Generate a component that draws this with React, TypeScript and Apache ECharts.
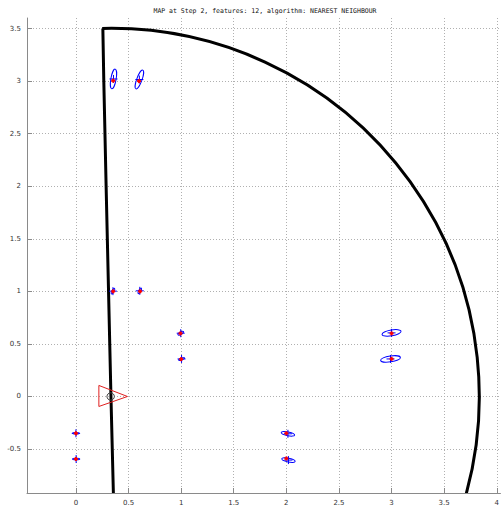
import React, { useEffect, useRef } from "react";
import * as echarts from "echarts";

const titleText = "MAP at Step 2, features: 12, algorithm: NEAREST NEIGHBOUR";

const xTicks = [0, 0.5, 1, 1.5, 2, 2.5, 3, 3.5, 4];
const yTicks = [-0.5, 0, 0.5, 1, 1.5, 2, 2.5, 3, 3.5];

// true landmark positions (red)
const trueX = [0.354, 0.6, 0.354, 0.61, 0.994, 1.0, 0.0, 0.0, 2.0, 2.0, 3.0, 3.0];
const trueY = [3.004, 3.0, 1.0, 1.0, 0.6, 0.355, -0.35, -0.595, -0.35, -0.59, 0.6, 0.358];
// estimated landmark positions (blue)
const estX = [0.357, 0.603, 0.352, 0.607, 0.996, 1.004, 0.0, 0.002, 2.015, 2.02, 3.0, 2.99];
const estY = [3.02, 3.015, 1.002, 1.005, 0.602, 0.357, -0.35, -0.595, -0.355, -0.605, 0.605, 0.357];
// covariance ellipses: semi-axes (data units) and angle (deg)
const ellA = [0.095, 0.095, 0.03, 0.03, 0.03, 0.03, 0.035, 0.035, 0.065, 0.065, 0.092, 0.095];
const ellB = [0.025, 0.025, 0.01, 0.01, 0.012, 0.01, 0.008, 0.008, 0.018, 0.018, 0.028, 0.028];
const ellAng = [80, 70, 60, 60, 30, 20, 0, 0, -12, -12, 10, 8];

// robot trajectory
const pathX = [0.356, 0.333, 0.31, 0.287, 0.265, 0.256];
const pathY = [-0.918, 0, 1, 2, 3, 3.5];
// circular part of the trajectory: center x, center y, radius, start deg, end deg
const arcParams = [0.335, 0, 3.5, 91.4, -20];

// robot pose triangle
const triX = [0.218, 0.218, 0.49, 0.218];
const triY = [0.105, -0.095, 0, 0.105];
// robot pose covariance
const robotCov = [0.33, 0, 0.035];

export default function App() {
  const ref = useRef<HTMLDivElement>(null);
  useEffect(() => {
    if (!ref.current) return;
    const chart = echarts.init(ref.current, null, { renderer: "svg" });
    const lmData = trueX.map((x, i) => [x, trueY[i], estX[i], estY[i], ellA[i], ellB[i], ellAng[i]]);
    const axisColor = "#8a8a8a";
    const gridLine = { show: true, lineStyle: { color: "#b0b0b0", type: [1, 2] as any, width: 1 } };
    chart.setOption({
      animation: false,
      backgroundColor: "#ffffff",
      grid: { left: 27, right: 1, top: 18, bottom: 16, containLabel: false },
      graphic: [
        {
          type: "text",
          x: 265,
          y: 11,
          style: {
            text: titleText,
            align: "center",
            verticalAlign: "middle",
            fontSize: 6.5,
            fontFamily: "DejaVu Sans Mono",
            fill: "#111",
          },
        },
      ],
      xAxis: {
        type: "value",
        min: -0.465,
        max: 4.035,
        axisLine: { show: true, onZero: false, lineStyle: { color: axisColor, width: 1 } },
        axisTick: { show: true, inside: true, length: 5, customValues: xTicks, lineStyle: { color: axisColor } },
        axisLabel: {
          customValues: xTicks,
          formatter: (v: number) => String(v),
          fontSize: 7,
          fontFamily: "DejaVu Sans",
          color: "#333",
          margin: 6,
        },
        splitLine: gridLine,
      },
      yAxis: {
        type: "value",
        min: -0.918,
        max: 3.6,
        axisLine: { show: true, onZero: false, lineStyle: { color: axisColor, width: 1 } },
        axisTick: { show: true, inside: true, length: 5, customValues: yTicks, lineStyle: { color: axisColor } },
        axisLabel: {
          customValues: yTicks,
          formatter: (v: number) => String(v),
          fontSize: 7,
          fontFamily: "DejaVu Sans",
          color: "#333",
          margin: 6,
        },
        splitLine: gridLine,
      },
      series: [
        {
          type: "line",
          data: pathX.map((x, i) => [x, pathY[i]]),
          symbol: "none",
          lineStyle: { color: "#000", width: 3 },
          z: 3,
        },
        {
          type: "custom",
          clip: true,
          data: [arcParams],
          encode: { x: 0, y: 1 },
          z: 3,
          renderItem: (params: any, api: any) => {
            const c = api.coord([api.value(0), api.value(1)]);
            const s = api.size([api.value(2), api.value(2)]);
            const r = (s[0] + s[1]) / 2;
            const a0 = (-api.value(3) * Math.PI) / 180;
            const a1 = (-api.value(4) * Math.PI) / 180;
            return {
              type: "arc",
              shape: { cx: c[0], cy: c[1], r, startAngle: a0, endAngle: a1, clockwise: true },
              style: { fill: "none", stroke: "#000", lineWidth: 3 },
            };
          },
        },
        {
          type: "line",
          data: triX.map((x, i) => [x, triY[i]]),
          symbol: "none",
          lineStyle: { color: "#e02020", width: 1 },
          z: 4,
        },
        {
          type: "custom",
          clip: true,
          data: [robotCov],
          encode: { x: 0, y: 1 },
          z: 4,
          renderItem: (params: any, api: any) => {
            const c = api.coord([api.value(0), api.value(1)]);
            const s = api.size([api.value(2), api.value(2)]);
            return {
              type: "ellipse",
              shape: { cx: c[0], cy: c[1], rx: s[0], ry: s[1] },
              style: { fill: "none", stroke: "#444", lineWidth: 1 },
            };
          },
        },
        {
          type: "custom",
          clip: true,
          data: lmData,
          encode: { x: 0, y: 1 },
          z: 5,
          renderItem: (params: any, api: any) => {
            const t = api.coord([api.value(0), api.value(1)]);
            const e = api.coord([api.value(2), api.value(3)]);
            const u = api.size([1, 1]);
            const rx = api.value(4) * u[0];
            const ry = api.value(5) * u[1];
            const rot = (api.value(6) * Math.PI) / 180;
            const arm = 4;
            const rarm = 2;
            return {
              type: "group",
              children: [
                {
                  type: "ellipse",
                  x: e[0],
                  y: e[1],
                  rotation: rot,
                  shape: { cx: 0, cy: 0, rx, ry },
                  style: { fill: "none", stroke: "#0000ff", lineWidth: 1 },
                },
                {
                  type: "line",
                  shape: { x1: e[0] - arm, y1: e[1], x2: e[0] + arm, y2: e[1] },
                  style: { stroke: "#0000ff", lineWidth: 1 },
                },
                {
                  type: "line",
                  shape: { x1: e[0], y1: e[1] - arm, x2: e[0], y2: e[1] + arm },
                  style: { stroke: "#0000ff", lineWidth: 1 },
                },
                {
                  type: "line",
                  shape: { x1: t[0] - rarm, y1: t[1], x2: t[0] + rarm, y2: t[1] },
                  style: { stroke: "#ff0000", lineWidth: 2 },
                },
                {
                  type: "line",
                  shape: { x1: t[0], y1: t[1] - rarm, x2: t[0], y2: t[1] + rarm },
                  style: { stroke: "#ff0000", lineWidth: 2 },
                },
              ],
            };
          },
        },
      ],
    });
    return () => chart.dispose();
  }, []);
  return (
    <div
      ref={ref}
      style={{ position: "fixed", left: 0, top: 0, width: 502, height: 509, background: "#fff" }}
    />
  );
}
